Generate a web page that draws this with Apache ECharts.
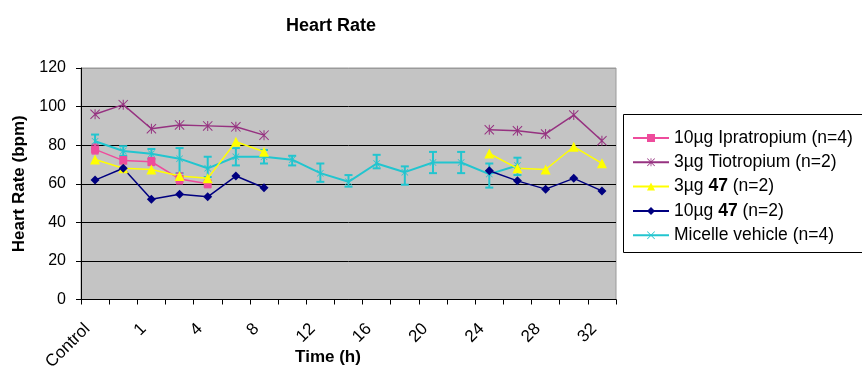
<!DOCTYPE html>
<html>
<head>
<meta charset="utf-8">
<script src="https://cdn.jsdelivr.net/npm/echarts@6/dist/echarts.min.js"></script>
<style>
html,body{margin:0;padding:0;background:#fff;}
#chart{width:862px;height:368px;}
</style>
</head>
<body>
<div id="chart"></div>
<script>
// ---- data ----
const categories = ['Control','0.5','1','2','4','6','8','10','12','14','16','18','20','22','24','26','28','30','32'];
const yTicks = [0, 20, 40, 60, 80, 100, 120];

const ipratropium     = [77.8, 72, 71.4, 62.5, 60, null, null, null, null, null, null, null, null, null, null, null, null, null, null];
const ipratropiumLow  = [75.5, 70.5, 69.5, 60, 58];
const ipratropiumHigh = [80.5, 74, 73.5, 65.5, 62];

const tiotropium = [96, 101, 88.5, 90.5, 90, 89.5, 85.2, null, null, null, null, null, null, null, 88, 87.5, 85.8, 95.6, 82.3];
const cmpd47Low  = [72.6, 68, 67.4, 64, 62.8, 81.8, 76.6, null, null, null, null, null, null, null, 75.7, 68, 67.4, 79.2, 70.6];
const cmpd47High = [61.9, 68, 52, 54.6, 53.2, 64, 57.9, null, null, null, null, null, null, null, 66.7, 61.5, 57.2, 62.8, 56.3];

const micelle     = [82, 77, 75.5, 73, 68, 74, 74, 72.5, 65.5, 61, 70.5, 66, 71, 71, 65, 69.5, null, null, null];
const micelleLow  = [78, 74.5, 73, 65.5, 63.5, 69.5, 70.5, 69.5, 61, 58.5, 68, 59.5, 65.5, 65.5, 58, 64.5];
const micelleHigh = [85.5, 79.5, 78, 78.5, 74, 78.5, 77.5, 74.5, 70.5, 64.5, 75, 69, 76.5, 76.5, 70.5, 73.5];

const seriesNames = ['10µg Ipratropium (n=4)', '3µg Tiotropium (n=2)', '3µg 47 (n=2)', '10µg 47 (n=2)', 'Micelle vehicle (n=4)'];

// ---- build ----
const FONT = 'Liberation Sans, Arial, sans-serif';
const asterisk = 'path://M9 0 H11 V20 H9 Z M1.4 0 L20 18.6 L18.6 20 L0 1.4 Z M18.6 0 L20 1.4 L1.4 20 L0 18.6 Z';
const xmark = 'path://M1.4 0 L20 18.6 L18.6 20 L0 1.4 Z M18.6 0 L20 1.4 L1.4 20 L0 18.6 Z';

const C_PINK = '#EE4C9C', C_PURPLE = '#963280', C_YELLOW = '#FFFF00', C_NAVY = '#000080', C_CYAN = '#22C5CF';

function errData(lo, hi) {
  return lo.map((v, i) => [i, v, hi[i]]);
}
function errRender(color, cap, lw) {
  return function (params, api) {
    const x = api.value(0);
    const p1 = api.coord([x, api.value(1)]);
    const p2 = api.coord([x, api.value(2)]);
    const st = { stroke: color, lineWidth: lw };
    return {
      type: 'group',
      children: [
        { type: 'line', shape: { x1: p1[0], y1: p1[1], x2: p2[0], y2: p2[1] }, style: st },
        { type: 'line', shape: { x1: p1[0] - cap, y1: p1[1], x2: p1[0] + cap, y2: p1[1] }, style: st },
        { type: 'line', shape: { x1: p2[0] - cap, y1: p2[1], x2: p2[0] + cap, y2: p2[1] }, style: st }
      ]
    };
  };
}
function lineSeries(name, data, color, symbol, size, lw) {
  return {
    name: name, type: 'line', data: data,
    symbol: symbol, symbolSize: size, showSymbol: true,
    lineStyle: { color: color, width: lw },
    itemStyle: { color: color },
    connectNulls: false, animation: false, z: 3
  };
}

const chart = echarts.init(document.getElementById('chart'), null, { renderer: 'canvas' });
chart.setOption({
  animation: false,
  backgroundColor: '#ffffff',
  textStyle: { fontFamily: FONT },
  title: [
    { text: 'Heart Rate', left: 331, top: 17, textAlign: 'center', padding: 0,
      textStyle: { fontFamily: FONT, fontSize: 18, fontWeight: 'bold', color: '#000' } },
    { text: 'Time (h)', left: 328, top: 349, textAlign: 'center', padding: 0,
      textStyle: { fontFamily: FONT, fontSize: 17, fontWeight: 'bold', color: '#000' } }
  ],
  graphic: [
    { type: 'rect', left: 623, top: 114, z: -1, silent: true,
      shape: { width: 260, height: 138 },
      style: { fill: '#ffffff', stroke: '#000', lineWidth: 1 } }
  ],
  grid: { left: 81, right: 246, top: 68, bottom: 68.5, outerBoundsMode: 'none', containLabel: false,
    show: true, backgroundColor: '#C4C4C4', borderColor: '#9a9a9a', borderWidth: 1 },
  legend: {
    orient: 'vertical', left: 623, top: 116,
    data: seriesNames,
    itemWidth: 36, itemHeight: 10, itemGap: 6.3,
    padding: [13, 10, 13, 9],
    backgroundColor: 'transparent', borderWidth: 0,
    formatter: function (name) { return name.replace(' 47 ', ' {b|47} '); },
    textStyle: { fontFamily: FONT, fontSize: 17.5, color: '#000', lineHeight: 16,
      rich: { b: { fontFamily: FONT, fontSize: 17.5, fontWeight: 'bold', color: '#000', lineHeight: 16 } } }
  },
  xAxis: {
    type: 'category', data: categories, boundaryGap: true,
    axisLine: { lineStyle: { color: '#000', width: 1 } },
    axisTick: { show: true, interval: 0, length: 5, lineStyle: { color: '#000' } },
    axisLabel: { interval: 1, rotate: 45, margin: 19, padding: [0, 11, 0, 0], fontFamily: FONT, fontSize: 17, color: '#000' },
    splitLine: { show: false }
  },
  yAxis: {
    type: 'value', min: yTicks[0], max: yTicks[yTicks.length - 1], interval: 20,
    name: 'Heart Rate (bpm)', nameLocation: 'middle', nameGap: 53,
    nameTextStyle: { fontFamily: FONT, fontSize: 17, fontWeight: 'bold', color: '#000' },
    axisLine: { show: true, lineStyle: { color: '#000', width: 1 } },
    axisTick: { show: true, length: 5, lineStyle: { color: '#000' } },
    axisLabel: { margin: 15, fontFamily: FONT, fontSize: 16, color: '#000' },
    splitLine: { show: true, lineStyle: { color: ['#000', '#000', '#000', '#000', '#000', '#000', '#9a9a9a'], width: 1 } }
  },
  series: [
    {
      type: 'custom', renderItem: errRender(C_CYAN, 4, 2), data: errData(micelleLow, micelleHigh),
      encode: { x: 0, y: [1, 2] }, z: 2, silent: true
    },
    {
      type: 'custom', renderItem: errRender(C_PINK, 3.5, 1.5), data: errData(ipratropiumLow, ipratropiumHigh),
      encode: { x: 0, y: [1, 2] }, z: 2, silent: true
    },
    lineSeries(seriesNames[4], micelle, C_CYAN, xmark, 7, 2),
    lineSeries(seriesNames[0], ipratropium, C_PINK, 'rect', 8, 1.5),
    lineSeries(seriesNames[1], tiotropium, C_PURPLE, asterisk, 10, 1.5),
    lineSeries(seriesNames[2], cmpd47Low, C_YELLOW, 'triangle', 10, 1.5),
    lineSeries(seriesNames[3], cmpd47High, C_NAVY, 'diamond', 9, 1.5)
  ]
});
</script>
</body>
</html>
